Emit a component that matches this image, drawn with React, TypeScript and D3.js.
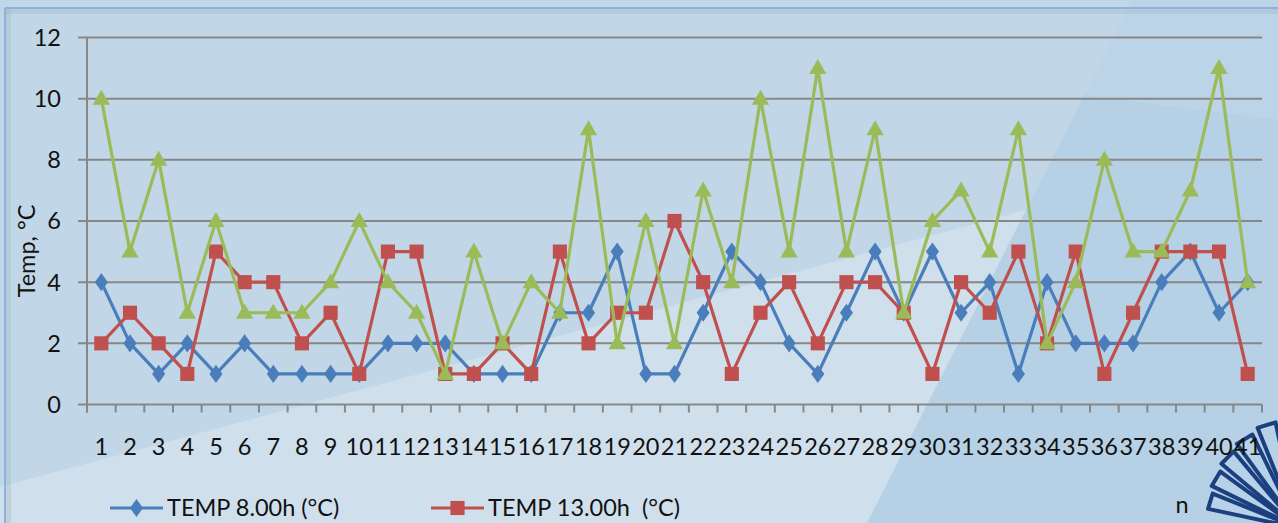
import React, { useEffect, useRef } from 'react';
import * as d3 from 'd3';

// n = 1..41
const days = d3.range(1, 42).map(String);
const temp8 = [4, 2, 1, 2, 1, 2, 1, 1, 1, 1, 2, 2, 2, 1, 1, 1, 3, 3, 5, 1, 1, 3, 5, 4, 2, 1, 3, 5, 3, 5, 3, 4, 1, 4, 2, 2, 2, 4, 5, 3, 4];
const temp13 = [2, 3, 2, 1, 5, 4, 4, 2, 3, 1, 5, 5, 1, 1, 2, 1, 5, 2, 3, 3, 6, 4, 1, 3, 4, 2, 4, 4, 3, 1, 4, 3, 5, 2, 5, 1, 3, 5, 5, 5, 1];
const temp3 = [10, 5, 8, 3, 6, 3, 3, 3, 4, 6, 4, 3, 1, 5, 2, 4, 3, 9, 2, 6, 2, 7, 4, 10, 5, 11, 5, 9, 3, 6, 7, 5, 9, 2, 4, 8, 5, 5, 7, 11, 4];
const yTicks = [0, 2, 4, 6, 8, 10, 12];

const W = 1278;
const H = 523;
const FONT = 'Lato, "Open Sans", sans-serif';
const FS = 23.5;

const App: React.FC = () => {
  const svgRef = useRef<SVGSVGElement | null>(null);

  useEffect(() => {
    if (!svgRef.current) return;
    const svg = d3.select(svgRef.current);
    svg.selectAll('*').remove();

    // background panels
    svg.append('rect').attr('width', W).attr('height', H).attr('fill', '#c1d7e7');
    svg.append('polygon').attr('points', `0,487 1026,210 867,${H} 0,${H}`).attr('fill', '#cfe0ec');
    svg.append('polygon').attr('points', `1133,0 ${W},0 ${W},${H} 867,${H}`).attr('fill', '#b6d1e5');
    svg.append('polygon').attr('points', `1133,0 ${W},0 ${W},120 1085,95`).attr('fill', '#bcd4e7');
    // frame
    svg.append('line').attr('x1', 5).attr('x2', W).attr('y1', 8).attr('y2', 8).attr('stroke', '#8fb1dc').attr('stroke-width', 2);
    svg.append('line').attr('x1', 5).attr('x2', 5).attr('y1', 8).attr('y2', H).attr('stroke', '#8fb1dc').attr('stroke-width', 2);
    svg.append('rect').attr('x', 6).attr('y', 9).attr('width', W).attr('height', 5).attr('fill', '#9fb4c4').attr('opacity', 0.35);
    svg.append('rect').attr('x', 6).attr('y', 9).attr('width', 5).attr('height', H).attr('fill', '#9fb4c4').attr('opacity', 0.35);

    const left = 87;
    const right = 1262;
    const top = 37.5;
    const bottom = 404.5;

    const x = d3.scaleBand<string>().domain(days).range([left, right]);
    const y = d3.scaleLinear().domain([0, 12]).range([bottom, top]);
    const cx = (d: string) => (x(d) ?? 0) + x.bandwidth() / 2;

    // gridlines
    svg
      .selectAll('.grid')
      .data(yTicks)
      .enter()
      .append('line')
      .attr('x1', left - 9)
      .attr('x2', right)
      .attr('y1', (d) => y(d))
      .attr('y2', (d) => y(d))
      .attr('stroke', '#878787')
      .attr('stroke-width', 2);

    svg
      .selectAll('.ylab')
      .data(yTicks)
      .enter()
      .append('text')
      .attr('x', 61)
      .attr('y', (d) => y(d))
      .attr('dy', '0.36em')
      .attr('text-anchor', 'end')
      .attr('font-family', FONT)
      .attr('font-size', FS)
      .attr('fill', '#111')
      .text((d) => d);

    // axis lines
    svg.append('line').attr('x1', left).attr('x2', left).attr('y1', top).attr('y2', bottom + 8).attr('stroke', '#878787').attr('stroke-width', 2);
    svg
      .selectAll('.xtick')
      .data(d3.range(days.length + 1))
      .enter()
      .append('line')
      .attr('x1', (i) => left + i * x.bandwidth())
      .attr('x2', (i) => left + i * x.bandwidth())
      .attr('y1', bottom)
      .attr('y2', bottom + 8)
      .attr('stroke', '#878787')
      .attr('stroke-width', 2);

    // logo fan, bottom-right corner (behind the labels)
    const logo = svg.append('g').attr('transform', 'translate(1298,528)');
    const angles = [-168, -154, -140, -126, -112, -98];
    angles.forEach((a, i) => {
      const r = 92 + i * 4;
      const rad = (a * Math.PI) / 180;
      const rad2 = ((a + 10) * Math.PI) / 180;
      logo
        .append('polygon')
        .attr('points', `0,0 ${r * Math.cos(rad)},${r * Math.sin(rad)} ${r * Math.cos(rad2)},${r * Math.sin(rad2)}`)
        .attr('fill', '#b7d2e8')
        .attr('stroke', '#1c3f7f')
        .attr('stroke-width', 4)
        .attr('stroke-linejoin', 'round');
    });

    svg
      .selectAll('.xlab')
      .data(days)
      .enter()
      .append('text')
      .attr('x', cx)
      .attr('y', 447)
      .attr('dy', '0.36em')
      .attr('text-anchor', 'middle')
      .attr('font-family', FONT)
      .attr('font-size', FS)
      .attr('fill', '#111')
      .text((d) => d);

    svg
      .append('text')
      .attr('transform', 'translate(27,251) rotate(-90)')
      .attr('dy', '0.36em')
      .attr('text-anchor', 'middle')
      .attr('font-family', FONT)
      .attr('font-size', FS)
      .attr('fill', '#111')
      .text('Temp, °C');

    const series = [
      { name: 'TEMP 8.00h (°C)', values: temp8, color: '#4a7ebb', symbol: d3.symbolDiamond, size: 95 },
      { name: 'TEMP 13.00h  (°C)', values: temp13, color: '#c0504d', symbol: d3.symbolSquare, size: 200 },
      { name: 'TEMP 3', values: temp3, color: '#9bbb59', symbol: d3.symbolTriangle, size: 130 },
    ];

    const line = d3
      .line<number>()
      .x((_d, i) => cx(days[i]))
      .y((d) => y(d));

    series.forEach((s) => {
      const g = svg.append('g');
      g.append('path')
        .attr('d', line(s.values) ?? '')
        .attr('fill', 'none')
        .attr('stroke', s.color)
        .attr('stroke-width', 3.2)
        .attr('stroke-linejoin', 'round');
      const sym = d3.symbol().type(s.symbol).size(s.size);
      g.selectAll('path.m')
        .data(s.values)
        .enter()
        .append('path')
        .attr('class', 'm')
        .attr('d', sym() ?? '')
        .attr('transform', (d, i) =>
          s.symbol === d3.symbolDiamond
            ? `translate(${cx(days[i])},${y(d)}) scale(1.25,1)`
            : s.symbol === d3.symbolTriangle
            ? `translate(${cx(days[i])},${y(d) + 1})`
            : `translate(${cx(days[i])},${y(d)})`
        )
        .attr('fill', s.color);
    });

    // legend (third entry falls outside the picture)
    const legendItems = series.slice(0, 2);
    const lx = [110, 431];
    legendItems.forEach((s, i) => {
      const g = svg.append('g').attr('transform', `translate(${lx[i]},508)`);
      g.append('line').attr('x1', 0).attr('x2', 53).attr('stroke', s.color).attr('stroke-width', 3.2);
      g.append('path')
        .attr('d', d3.symbol().type(s.symbol).size(s.size)() ?? '')
        .attr('transform', s.symbol === d3.symbolDiamond ? 'translate(26.5,0) scale(1.25,1)' : 'translate(26.5,0)')
        .attr('fill', s.color);
      g.append('text')
        .attr('x', 57)
        .attr('dy', '0.36em')
        .attr('font-family', FONT)
        .attr('font-size', FS)
        .attr('fill', '#111')
        .style('white-space', 'pre')
        .text(s.name);
    });

    svg
      .append('text')
      .attr('x', 1182)
      .attr('y', 505)
      .attr('dy', '0.36em')
      .attr('text-anchor', 'middle')
      .attr('font-family', FONT)
      .attr('font-size', FS)
      .attr('fill', '#111')
      .text('n');
  }, []);

  return (
    <svg
      ref={svgRef}
      width={W}
      height={H}
      viewBox={`0 0 ${W} ${H}`}
      style={{ position: 'fixed', left: 0, top: 0 }}
    ></svg>
  );
};

export default App;
